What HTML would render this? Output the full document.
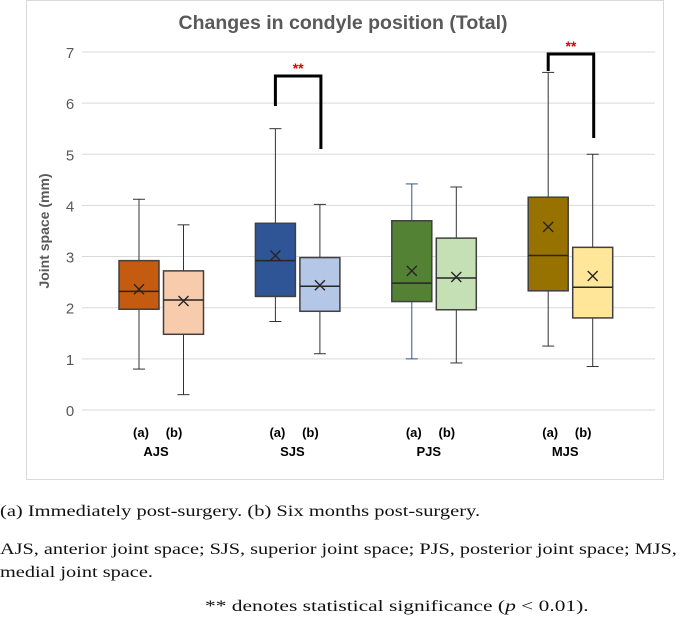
<!DOCTYPE html>
<html><head><meta charset="utf-8">
<style>
body{margin:0;background:#fff;width:685px;height:620px;overflow:hidden;position:relative;font-family:"Liberation Serif",serif;}
.cap{position:absolute;font-size:16px;color:#111;white-space:nowrap;transform-origin:0 0;transform:scaleX(1.27)}
</style></head><body>
<svg id="chart" width="685" height="490" style="position:absolute;left:0;top:0" font-family="Liberation Sans, sans-serif">
<rect x="26.5" y="0.5" width="637" height="479" fill="#fff" stroke="#d9d9d9"/>
<text x="343" y="29" text-anchor="middle" font-size="19.5" font-weight="bold" fill="#595959">Changes in condyle position (Total)</text>
<text transform="translate(49,231) rotate(-90)" text-anchor="middle" font-size="14" font-weight="bold" fill="#595959">Joint space (mm)</text>
<g id="grid"></g><g id="boxes"></g><g id="labels"></g>
</svg>
<div class="cap" style="left:0;top:503px;transform:scaleX(1.28)">(a) Immediately post-surgery. (b) Six months post-surgery.</div>
<div class="cap" style="left:0;top:541px;transform:scaleX(1.265)">AJS, anterior joint space; SJS, superior joint space; PJS, posterior joint space; MJS,</div>
<div class="cap" style="left:0;top:564px">medial joint space.</div>
<div class="cap" style="left:205px;top:598px;transform:scaleX(1.34)">** denotes statistical significance (<i>p</i> &lt; 0.01).</div>
<script>
const groups=["AJS","SJS","PJS","MJS"];
const yTicks=[0,1,2,3,4,5,6,7];
const mins=[0.8,0.3,1.73,1.1,1.0,0.92,1.25,0.85];
const q1s=[1.97,1.48,2.22,1.93,2.12,1.96,2.33,1.8];
const medians=[2.32,2.15,2.92,2.42,2.48,2.58,3.02,2.4];
const q3s=[2.92,2.72,3.65,2.98,3.7,3.36,4.16,3.18];
const maxs=[4.12,3.62,5.5,4.02,4.42,4.36,6.6,5.0];
const means=[2.36,2.13,3.02,2.44,2.72,2.6,3.58,2.62];
const colors=["#c55a11","#f8cbad","#2f5597","#b4c7e7","#548235","#c5e0b4","#977200","#ffe699"];
const NS="http://www.w3.org/2000/svg";
const y=v=>410-v*51.15;
const x=i=>139+Math.floor(i/2)*136.4+(i%2)*44.5;
function mk(tag,attrs,parent){const e=document.createElementNS(NS,tag);for(const k in attrs)e.setAttribute(k,attrs[k]);parent.appendChild(e);return e;}
const grid=document.getElementById('grid'),boxes=document.getElementById('boxes'),labels=document.getElementById('labels');
yTicks.forEach(t=>{
 const l=mk('line',{x1:82,x2:655,y1:y(t),y2:y(t),stroke:'#d9d9d9','stroke-width':1},grid);
 
 
 const tx=mk('text',{x:70,y:y(t)+6,'text-anchor':'middle','font-size':15,fill:'#595959'},grid);
 tx.textContent=t;
 
 
});
const hw=20;
for(let i=0;i<8;i++){
 const cx=x(i),st=(i===4)?'#2f5597':'#333';
 const g=mk('g',{},boxes);
 
 
 mk('line',{x1:cx,x2:cx,y1:y(maxs[i]),y2:y(q3s[i]),stroke:st},g);
 mk('line',{x1:cx,x2:cx,y1:y(q1s[i]),y2:y(mins[i]),stroke:st},g);
 mk('line',{x1:cx-6,x2:cx+6,y1:y(maxs[i]),y2:y(maxs[i]),stroke:st},g);
 mk('line',{x1:cx-6,x2:cx+6,y1:y(mins[i]),y2:y(mins[i]),stroke:st},g);
 mk('rect',{x:cx-hw,y:y(q3s[i]),width:2*hw,height:y(q1s[i])-y(q3s[i]),fill:colors[i],stroke:'#404040','stroke-width':1.5},g);
 mk('line',{x1:cx-hw,x2:cx+hw,y1:y(medians[i]),y2:y(medians[i]),stroke:'#262626','stroke-width':1.5},g);
 const my=y(means[i]);
 mk('path',{d:`M${cx-5} ${my-5}L${cx+5} ${my+5}M${cx+5} ${my-5}L${cx-5} ${my+5}`,stroke:'#262626','stroke-width':1.4},g);
}
groups.forEach((gname,k)=>{
 const cx=x(2*k);
 [['(a)',cx+2],['(b)',cx+35]].forEach(([s,px])=>{
  const t=mk('text',{x:px,y:437,'text-anchor':'middle','font-size':13,'font-weight':'bold',fill:'#000'},labels);
  t.textContent=s;
  
  
 });
 const t=mk('text',{x:cx+17,y:456,'text-anchor':'middle','font-size':13,'font-weight':'bold',fill:'#000'},labels);
 t.textContent=gname;
 
 
});
function bracket(i,ly,top,ry,name){
 const a=x(i),b=x(i+1)+1;
 const p=mk('path',{d:`M${a} ${ly}V${top}H${b}V${ry}`,fill:'none',stroke:'#000','stroke-width':3},labels);
 
 
 const s=mk('text',{x:(a+b)/2,y:top-3,'text-anchor':'middle','font-size':14,'font-weight':'bold',fill:'#e00000'},labels);
 s.textContent='**';
 
 
}
bracket(2,106,76,149,'sjs-significance-bracket');
bracket(6,71,54,138,'mjs-significance-bracket');
</script>
</body></html>
